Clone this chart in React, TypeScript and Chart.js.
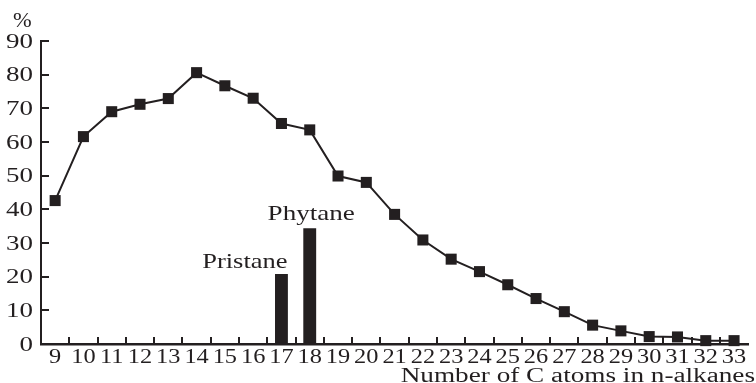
import React, { useEffect, useRef } from "react";
import { Chart, registerables } from "chart.js";

Chart.register(...registerables);

const CATEGORIES = ["9","10","11","12","13","14","15","16","17","18","19","20","21","22","23","24","25","26","27","28","29","30","31","32","33"];
const N_ALKANES = [42.6, 61.6, 69.0, 71.2, 72.9, 80.6, 76.7, 73.0, 65.5, 63.6, 49.9, 48.0, 38.5, 30.9, 25.2, 21.5, 17.6, 13.5, 9.6, 5.6, 3.9, 2.2, 2.1, 1.0, 1.0];
const ISOPRENOIDS = [null, null, null, null, null, null, null, null, 20.8, 34.4, null, null, null, null, null, null, null, null, null, null, null, null, null, null, null];
const ISOPRENOID_NAMES = ["Pristane", "Phytane"];
const Y_TICKS = [0, 10, 20, 30, 40, 50, 60, 70, 80, 90];
const Y_UNIT = "%";
const X_TITLE = "Number of C atoms in n-alkanes";

const INK = "#231f20";
const FAMILY = '"Liberation Serif", "Times New Roman", Times, serif';
const FONT = "20px " + FAMILY;
const LABEL_FONT = "21px " + FAMILY;

function stretchedText(ctx: CanvasRenderingContext2D, text: string, px: number, py: number, align: CanvasTextAlign, sx: number, font: string) {
  ctx.save();
  ctx.translate(px, py);
  ctx.scale(sx, 1);
  ctx.font = font;
  ctx.textAlign = align;
  ctx.textBaseline = "alphabetic";
  ctx.fillText(text, 0, 0);
  ctx.restore();
}

const axisTextPlugin = {
  id: "axisText",
  afterDraw(chart: any) {
    const ctx: CanvasRenderingContext2D = chart.ctx;
    const xs = chart.scales.x;
    const ys = chart.scales.y;
    ctx.save();
    ctx.fillStyle = INK;
    ctx.strokeStyle = INK;
    ctx.lineWidth = 2;
    ctx.beginPath();
    for (const v of Y_TICKS) {
      if (v === 0) continue;
      const py = Math.round(ys.getPixelForValue(v));
      ctx.moveTo(xs.left, py);
      ctx.lineTo(xs.left + 8, py);
    }
    for (let i = 1; i < CATEGORIES.length; i++) {
      const px = Math.round(xs.getPixelForValue(i - 0.5));
      ctx.moveTo(px, ys.bottom);
      ctx.lineTo(px, ys.bottom - 7);
    }
    ctx.stroke();

    for (const v of Y_TICKS) {
      const py = ys.getPixelForValue(v);
      stretchedText(ctx, String(v), 33, py + 6.5, "right", 1.35, FONT);
    }
    CATEGORIES.forEach((c, i) => {
      const px = xs.getPixelForValue(i);
      stretchedText(ctx, c, px, 362.5, "center", 1.22, FONT);
    });
    stretchedText(ctx, X_TITLE, 755, 381.5, "right", 1.36, FONT);
    stretchedText(ctx, Y_UNIT, 13, 26.5, "left", 1.12, FONT);

    const iP = 8, iF = 9;
    const pTop = ys.getPixelForValue(ISOPRENOIDS[iP] as number);
    const fTop = ys.getPixelForValue(ISOPRENOIDS[iF] as number);
    stretchedText(ctx, ISOPRENOID_NAMES[0], xs.getPixelForValue(iP) + 6, pTop - 6, "right", 1.26, LABEL_FONT);
    stretchedText(ctx, ISOPRENOID_NAMES[1], xs.getPixelForValue(iF) + 1.5, fTop - 8, "center", 1.29, LABEL_FONT);
    ctx.restore();
  },
};

export default function App() {
  const ref = useRef<HTMLCanvasElement | null>(null);
  useEffect(() => {
    if (!ref.current) return;
    let chart: Chart | null = null;
    let cancelled = false;
    const build = () => {
      if (cancelled || !ref.current) return;
      chart = new Chart(ref.current, {
        type: "bar",
        data: {
          labels: CATEGORIES,
          datasets: [
            {
              type: "line",
              label: "n-alkanes",
              data: N_ALKANES,
              borderColor: INK,
              backgroundColor: INK,
              borderWidth: 2,
              pointStyle: "rect",
              pointRadius: 7.8,
              pointBorderWidth: 0,
              pointBackgroundColor: INK,
              tension: 0,
              clip: false,
            } as any,
            {
              type: "bar",
              label: "isoprenoids",
              data: ISOPRENOIDS,
              backgroundColor: INK,
              borderWidth: 0,
              barPercentage: 0.455,
              categoryPercentage: 1,
            } as any,
          ],
        },
        options: {
          animation: false,
          responsive: false,
          maintainAspectRatio: false,
          layout: { padding: { left: 41, top: 41, right: 0, bottom: 39 } },
          plugins: { legend: { display: false }, tooltip: { enabled: false } },
          scales: {
            x: {
              offset: true,
              grid: { display: true, drawOnChartArea: false, drawTicks: false },
              border: { display: true, color: INK, width: 2.5 },
              ticks: { display: false },
            },
            y: {
              min: 0,
              max: 90,
              grid: { display: true, drawOnChartArea: false, drawTicks: false },
              border: { display: true, color: INK, width: 2 },
              ticks: { display: false, stepSize: 10 },
            },
          },
        },
        plugins: [axisTextPlugin],
      });
    };
    const fonts: any = (document as any).fonts;
    if (fonts && fonts.load) {
      Promise.all([fonts.load(FONT), fonts.load(LABEL_FONT)]).then(build, build);
    } else {
      build();
    }
    return () => {
      cancelled = true;
      if (chart) chart.destroy();
    };
  }, []);
  return (
    <div style={{ position: "fixed", left: 0, top: 0, width: 756, height: 383, background: "#fff" }}>
      <span style={{ position: "absolute", left: -9999, fontFamily: FAMILY }}>0</span>
      <canvas ref={ref} width={756} height={383} style={{ width: 756, height: 383, display: "block" }} />
    </div>
  );
}
